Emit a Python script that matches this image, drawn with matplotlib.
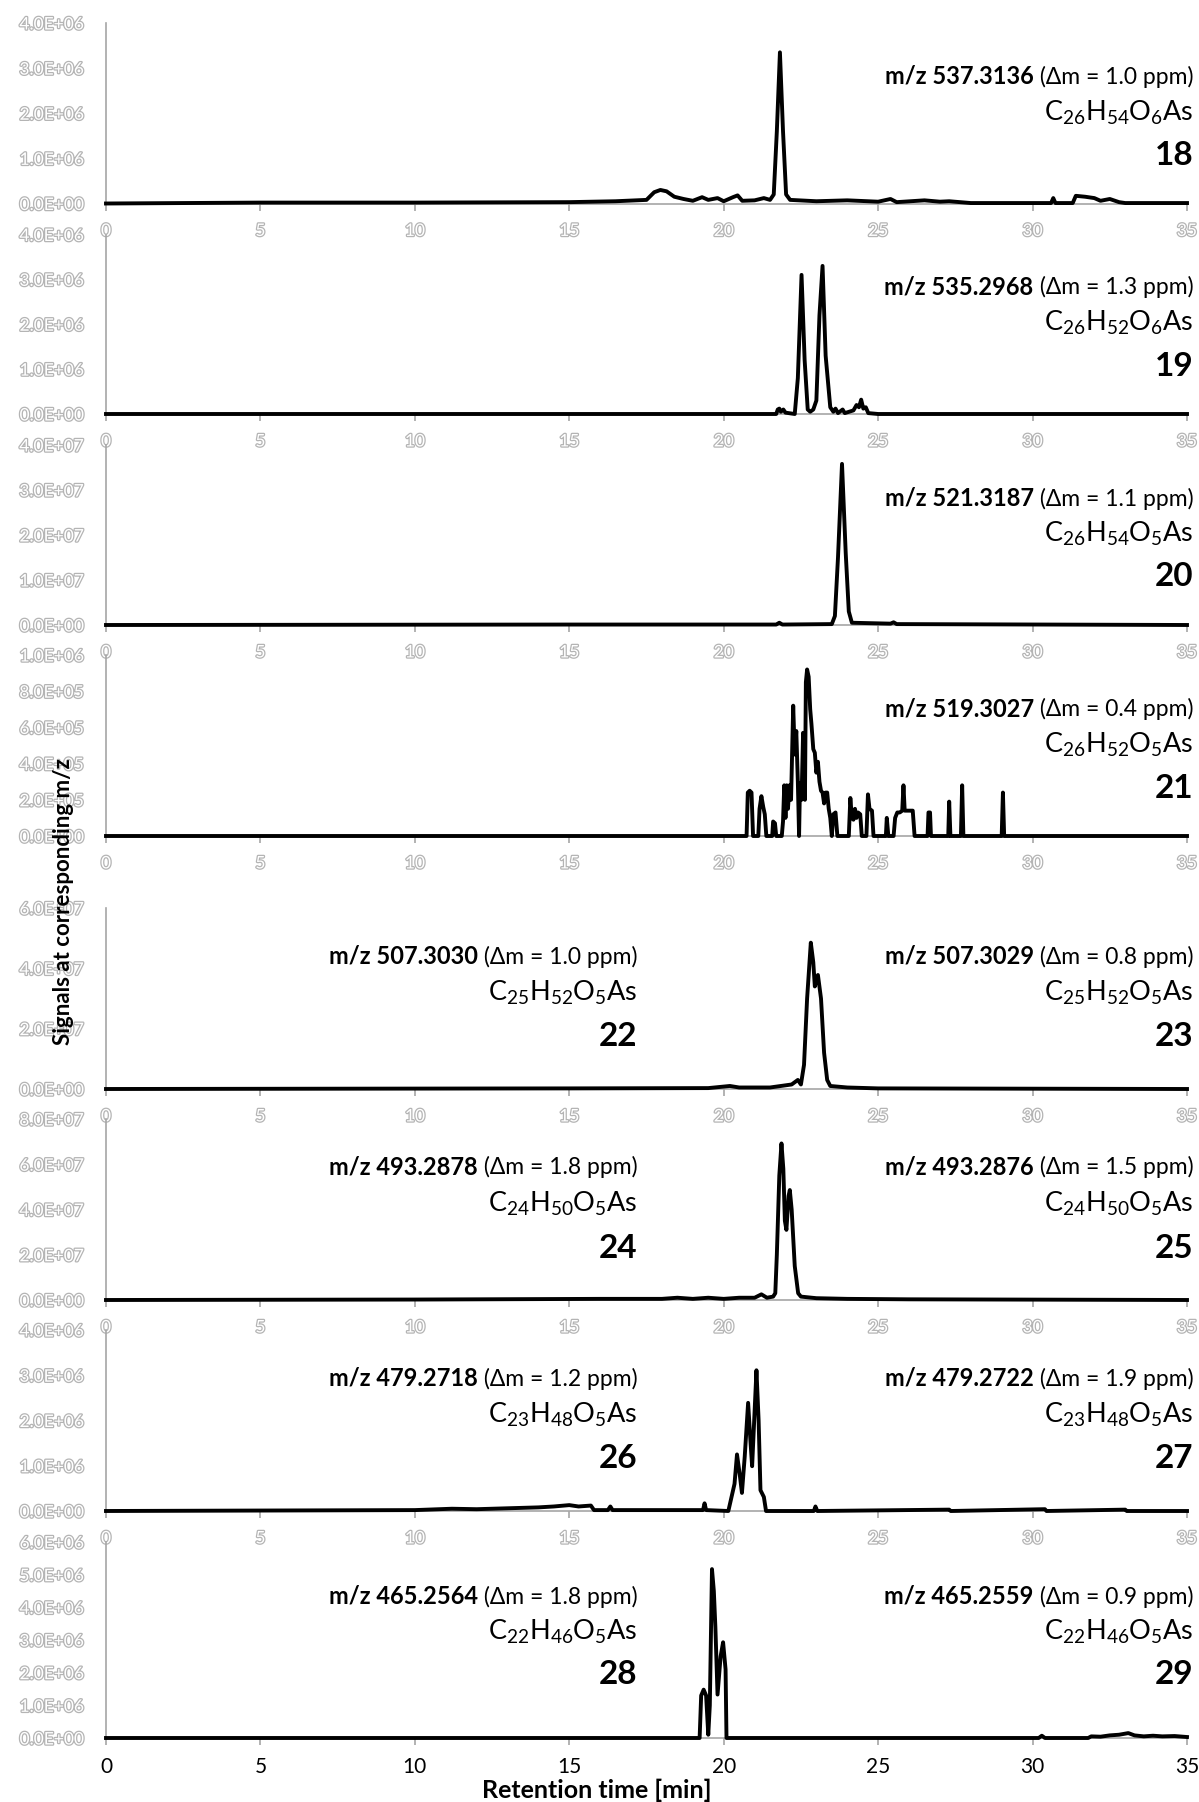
import matplotlib
matplotlib.use("Agg")
import matplotlib.pyplot as plt
import matplotlib.patheffects as pe
from matplotlib.offsetbox import TextArea, HPacker, AnnotationBbox
from matplotlib.transforms import ScaledTranslation
import numpy as np

plt.rcParams['font.family'] = ['Lato', 'DejaVu Sans']
plt.rcParams['mathtext.fontset'] = 'custom'
plt.rcParams['mathtext.rm'] = 'Lato'
plt.rcParams['mathtext.it'] = 'Lato:italic'
plt.rcParams['mathtext.bf'] = 'Lato:bold'

# extracted ion chromatograms: (retention time [min], signal) in units of the panel scale
trace_18 = [(0, 0), (5, 0.02), (10, 0.02), (15, 0.03), (16.5, 0.05), (17.5, 0.08), (17.75, 0.25),
            (17.95, 0.3), (18.15, 0.27), (18.4, 0.15), (18.7, 0.1), (19.0, 0.06), (19.3, 0.14),
            (19.5, 0.08), (19.8, 0.12), (20.0, 0.05), (20.3, 0.14), (20.45, 0.18), (20.6, 0.06),
            (21.0, 0.07), (21.3, 0.12), (21.5, 0.08), (21.62, 0.2), (21.72, 1.6), (21.82, 3.35),
            (21.92, 1.6), (22.02, 0.2), (22.15, 0.08), (23.0, 0.05), (24.0, 0.07), (25.0, 0.04),
            (25.4, 0.1), (25.6, 0.03), (26.5, 0.07), (27.0, 0.04), (27.3, 0.05), (28.0, 0.01),
            (30.6, 0.01), (30.67, 0.12), (30.74, 0.01), (31.3, 0.01), (31.4, 0.17), (31.7, 0.15),
            (32.0, 0.12), (32.2, 0.06), (32.5, 0.1), (32.8, 0.03), (33.0, 0.01), (35, 0.01)]
trace_19 = [(0, 0), (21.7, 0), (21.75, 0.1), (21.8, 0.12), (21.85, 0.05), (21.93, 0.1), (22.0, 0.03),
            (22.3, 0), (22.4, 0.8), (22.52, 3.1), (22.62, 1.2), (22.72, 0.1), (22.8, 0.05), (22.9, 0.1),
            (23.0, 0.3), (23.1, 2.2), (23.2, 3.3), (23.3, 1.3), (23.45, 0.15), (23.55, 0.05),
            (23.62, 0.12), (23.7, 0.02), (23.85, 0.1), (23.92, 0.02), (24.2, 0.08), (24.3, 0.2),
            (24.38, 0.15), (24.45, 0.32), (24.52, 0.12), (24.6, 0.15), (24.68, 0.02), (25, 0), (35, 0)]
trace_20 = [(0, 0), (15, 0.01), (21.7, 0.01), (21.8, 0.05), (21.9, 0.01), (23.5, 0.02), (23.6, 0.2),
            (23.7, 1.5), (23.83, 3.58), (23.95, 1.6), (24.05, 0.3), (24.15, 0.05), (25.4, 0.03),
            (25.5, 0.06), (25.6, 0.02), (35, 0)]
trace_21 = [(0, 0), (20.74, 0), (20.78, 0.24), (20.84, 0.25), (20.9, 0.24), (20.95, 0), (21.12, 0),
            (21.16, 0.15), (21.22, 0.22), (21.28, 0.16), (21.33, 0.12), (21.38, 0), (21.57, 0),
            (21.6, 0.08), (21.66, 0.07), (21.7, 0), (21.88, 0), (21.92, 0.08), (21.96, 0.28),
            (22.0, 0.1), (22.04, 0.28), (22.08, 0.15), (22.13, 0.28), (22.18, 0.2), (22.25, 0.72),
            (22.3, 0.45), (22.35, 0.58), (22.4, 0.3), (22.44, 0), (22.47, 0.29), (22.52, 0.2),
            (22.57, 0.57), (22.63, 0.2), (22.66, 0.85), (22.7, 0.92), (22.75, 0.88), (22.8, 0.7),
            (22.84, 0.62), (22.9, 0.48), (22.95, 0.46), (23.0, 0.35), (23.05, 0.41), (23.1, 0.3),
            (23.15, 0.25), (23.2, 0.24), (23.25, 0.18), (23.3, 0.24), (23.35, 0.24), (23.4, 0.15),
            (23.45, 0.1), (23.5, 0), (23.55, 0.12), (23.62, 0.13), (23.68, 0), (24.05, 0),
            (24.1, 0.21), (24.15, 0.1), (24.2, 0.09), (24.25, 0.15), (24.3, 0.1), (24.35, 0.13),
            (24.42, 0.12), (24.47, 0), (24.62, 0), (24.67, 0.23), (24.72, 0.15), (24.8, 0.14),
            (24.85, 0), (25.25, 0), (25.28, 0.1), (25.33, 0), (25.5, 0), (25.55, 0.1), (25.62, 0.13),
            (25.7, 0.13), (25.78, 0.14), (25.82, 0.28), (25.86, 0.14), (25.95, 0.14), (26.05, 0.14),
            (26.12, 0.14), (26.18, 0), (26.6, 0), (26.63, 0.13), (26.68, 0.13), (26.71, 0),
            (27.27, 0), (27.3, 0.19), (27.34, 0), (27.68, 0), (27.72, 0.28), (27.76, 0), (29.0, 0),
            (29.04, 0.24), (29.08, 0), (35, 0)]
trace_22_23 = [(0, 0), (15, 0.02), (19.5, 0.03), (20.2, 0.1), (20.5, 0.05), (21.5, 0.05), (22.2, 0.15),
               (22.4, 0.3), (22.5, 0.15), (22.6, 0.8), (22.7, 3.0), (22.82, 4.85), (22.9, 4.2),
               (22.95, 3.4), (23.05, 3.78), (23.15, 3.0), (23.25, 1.2), (23.35, 0.3), (23.45, 0.1),
               (24, 0.05), (25, 0.02), (35, 0)]
trace_24_25 = [(0, 0), (10, 0.02), (16, 0.05), (18, 0.05), (18.5, 0.1), (19, 0.05), (19.5, 0.1),
               (20, 0.05), (20.5, 0.1), (21, 0.1), (21.22, 0.25), (21.4, 0.1), (21.6, 0.15),
               (21.67, 0.3), (21.72, 2.0), (21.8, 5.5), (21.87, 6.92), (21.93, 5.8), (21.98, 3.5),
               (22.03, 3.1), (22.1, 4.6), (22.14, 4.86), (22.2, 4.0), (22.3, 1.5), (22.41, 0.3),
               (22.5, 0.15), (23, 0.08), (24, 0.05), (26, 0.03), (35, 0)]
trace_26_27 = [(0, 0), (5, 0.01), (10, 0.02), (11.2, 0.05), (12, 0.04), (13, 0.06), (14, 0.08),
               (14.5, 0.1), (15, 0.13), (15.3, 0.1), (15.7, 0.12), (15.8, 0.02), (16.25, 0.02),
               (16.33, 0.1), (16.4, 0.02), (19.33, 0.02), (19.38, 0.17), (19.43, 0.02), (20.15, 0),
               (20.25, 0.3), (20.35, 0.6), (20.43, 1.25), (20.52, 0.8), (20.59, 0.4), (20.68, 1.2),
               (20.79, 2.39), (20.87, 1.5), (20.92, 0.99), (21.0, 2.2), (21.06, 3.11), (21.13, 2.0),
               (21.19, 0.46), (21.3, 0.31), (21.37, 0), (22.92, 0), (22.97, 0.1), (23.03, 0),
               (27.3, 0.03), (27.35, 0), (30.4, 0.04), (30.45, 0), (33, 0.03), (33.05, 0), (35, 0)]
trace_28_29 = [(0, 0), (19.22, 0), (19.27, 1.3), (19.35, 1.48), (19.43, 1.3), (19.5, 0.1), (19.55, 1.0),
               (19.62, 5.17), (19.68, 4.5), (19.73, 3.4), (19.8, 1.33), (19.9, 2.5), (19.98, 2.93),
               (20.06, 2.1), (20.09, 0), (30.2, 0), (30.3, 0.07), (30.4, 0), (31.8, 0), (31.9, 0.05),
               (32.2, 0.04), (32.5, 0.08), (32.8, 0.1), (33.1, 0.15), (33.3, 0.08), (33.6, 0.05),
               (33.9, 0.07), (34.2, 0.05), (34.6, 0.06), (35, 0.03)]

traces = [trace_18, trace_19, trace_20, trace_21, trace_22_23, trace_24_25, trace_26_27, trace_28_29]
scales = [1e6, 1e6, 1e7, 1e6, 1e7, 1e7, 1e6, 1e6]
y_max = [4e6, 4e6, 4e7, 1e6, 6e7, 8e7, 4e6, 6e6]
y_step = [1e6, 1e6, 1e7, 2e5, 2e7, 2e7, 1e6, 1e6]

# compound labels: (right edge [min], m/z, mass error, formula, compound number)
labels = [
    [(35.2, "537.3136", "1.0", "C$_{26}$H$_{54}$O$_{6}$As", "18")],
    [(35.2, "535.2968", "1.3", "C$_{26}$H$_{52}$O$_{6}$As", "19")],
    [(35.2, "521.3187", "1.1", "C$_{26}$H$_{54}$O$_{5}$As", "20")],
    [(35.2, "519.3027", "0.4", "C$_{26}$H$_{52}$O$_{5}$As", "21")],
    [(17.2, "507.3030", "1.0", "C$_{25}$H$_{52}$O$_{5}$As", "22"),
     (35.2, "507.3029", "0.8", "C$_{25}$H$_{52}$O$_{5}$As", "23")],
    [(17.2, "493.2878", "1.8", "C$_{24}$H$_{50}$O$_{5}$As", "24"),
     (35.2, "493.2876", "1.5", "C$_{24}$H$_{50}$O$_{5}$As", "25")],
    [(17.2, "479.2718", "1.2", "C$_{23}$H$_{48}$O$_{5}$As", "26"),
     (35.2, "479.2722", "1.9", "C$_{23}$H$_{48}$O$_{5}$As", "27")],
    [(17.2, "465.2564", "1.8", "C$_{22}$H$_{46}$O$_{5}$As", "28"),
     (35.2, "465.2559", "0.9", "C$_{22}$H$_{46}$O$_{5}$As", "29")],
]

# panel frames in pixels: (top, zero line)
frames = [(23, 203.5), (234.5, 414), (445, 625), (655, 836),
          (908, 1089), (1119, 1300), (1330, 1511), (1542, 1738)]
# label line heights above the zero line, pixels
label_dy = [(127, 91, 48)] * 4 + [(133, 96, 52)] * 3 + [(142, 106, 63)]

W, H = 1199, 1802
fig = plt.figure(figsize=(W / 100, H / 100), dpi=100)

grey = '#a6a6a6'
outline = [pe.Stroke(linewidth=1.8, foreground='#b4b4b4'), pe.Normal()]

for k, (top, zero) in enumerate(frames):
    ax = fig.add_axes([106 / W, 1 - zero / H, 1081 / W, (zero - top) / H])
    t = np.array([p[0] for p in traces[k]])
    v = np.array([p[1] for p in traces[k]]) * scales[k]
    ax.plot(t, v, color='black', lw=2.8, solid_joinstyle='round', zorder=3, clip_on=False)

    ax.set_xlim(0, 35)
    ax.set_ylim(0, y_max[k])
    ax.set_xticks(np.arange(0, 36, 5))
    ax.set_yticks(np.arange(0, y_max[k] + y_step[k] / 2, y_step[k]))
    ax.set_yticklabels([f"{y:.1E}" for y in ax.get_yticks()])

    for s in ['top', 'right']:
        ax.spines[s].set_visible(False)
    for s in ['left', 'bottom']:
        ax.spines[s].set_color(grey)
        ax.spines[s].set_linewidth(1.2)
    ax.patch.set_alpha(0)

    ax.tick_params(axis='y', length=0, pad=16, labelsize=12.5, labelcolor='white')
    last = k == len(frames) - 1
    if last:
        ax.tick_params(axis='x', direction='out', length=5, width=1.2, color=grey,
                       pad=9, labelsize=15, labelcolor='black')
    else:
        ax.tick_params(axis='x', direction='out', length=5, width=1.2, color=grey,
                       pad=9, labelsize=12.5, labelcolor='white')
    for tick in ax.yaxis.get_major_ticks():
        tick.label1.set_path_effects(outline)
    if not last:
        for tick in ax.xaxis.get_major_ticks():
            tick.label1.set_path_effects(outline)

    dy1, dy2, dy3 = label_dy[k]
    for x_right, mz, dm, formula, num in labels[k]:
        head = HPacker(children=[TextArea("m/z " + mz, textprops=dict(fontsize=17, fontweight='bold')),
                                 TextArea(" (\u0394m = " + dm + " ppm)", textprops=dict(fontsize=16.5))],
                       align='baseline', pad=0, sep=0)
        ab = AnnotationBbox(head, (x_right, 0), xycoords=ax.get_xaxis_transform(),
                            xybox=(0, dy1), boxcoords='offset pixels', box_alignment=(1, 0.5),
                            frameon=False, pad=0, annotation_clip=False)
        ax.add_artist(ab)
        off2 = ax.get_xaxis_transform() + ScaledTranslation(0, dy2 / 100, fig.dpi_scale_trans)
        ax.text(x_right, 0, formula, transform=off2, ha='right', va='center', fontsize=19.5)
        off3 = ax.get_xaxis_transform() + ScaledTranslation(0, dy3 / 100, fig.dpi_scale_trans)
        ax.text(x_right, 0, num, transform=off3, ha='right', va='center', fontsize=24,
                fontweight='bold')

fig.text(64 / W, 1 - 902 / H, "Signals at corresponding m/z", rotation=90, ha='center',
         va='center', fontsize=16, fontweight='bold')
fig.text(597 / W, 1 - 1790 / H, "Retention time [min]", ha='center', va='center',
         fontsize=18, fontweight='bold')

fig.savefig("out.png", dpi=100)
